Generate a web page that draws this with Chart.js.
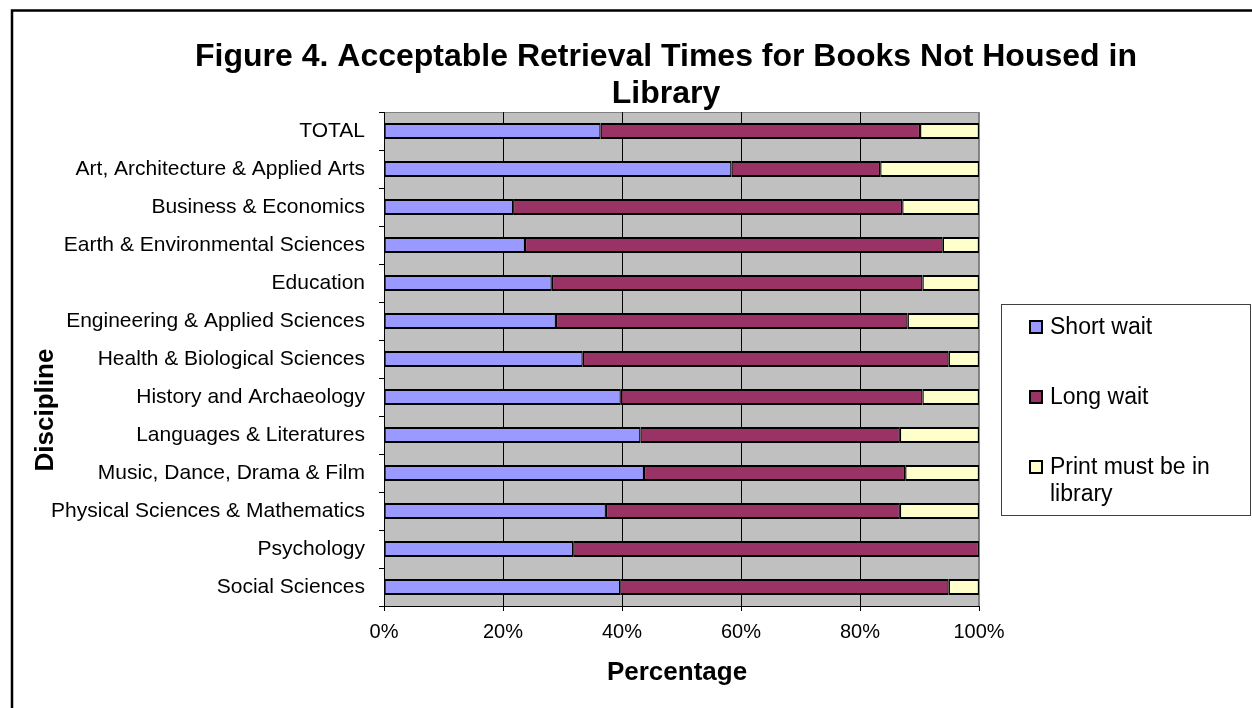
<!DOCTYPE html>
<html>
<head>
<meta charset="utf-8">
<title>Figure 4</title>
<script src="https://cdn.jsdelivr.net/npm/chart.js@4.4.1/dist/chart.umd.min.js"></script>
<style>
  html, body { margin: 0; padding: 0; background: #fff; }
  canvas { display: block; }
</style>
</head>
<body>
<canvas id="chart" width="1252" height="708"></canvas>
<script>
// categories top to bottom
const disciplines = [
  'TOTAL',
  'Art, Architecture & Applied Arts',
  'Business & Economics',
  'Earth & Environmental Sciences',
  'Education',
  'Engineering & Applied Sciences',
  'Health & Biological Sciences',
  'History and Archaeology',
  'Languages & Literatures',
  'Music, Dance, Drama & Film',
  'Physical Sciences & Mathematics',
  'Psychology',
  'Social Sciences'
];

// percentages
const shortWait = [36.4, 58.4, 21.7, 23.7, 28.2, 28.9, 33.4, 39.8, 43.1, 43.7, 37.3, 31.8, 39.7];
const longWait  = [53.7, 25.0, 65.4, 70.2, 62.3, 59.1, 61.5, 50.7, 43.6, 43.9, 49.4, 68.2, 55.2];
const printLib  = [9.9, 16.6, 12.9, 6.1, 9.5, 12.0, 5.1, 9.5, 13.3, 12.4, 13.3, 0, 5.1];

const seriesNames = ['Short wait', 'Long wait', 'Print must be in library'];
const seriesColors = ['#9999FF', '#993366', '#FFFFCC'];
const xTicks = [0, 20, 40, 60, 80, 100];

const FONT = "'Liberation Sans', Arial, sans-serif";

// frame, plot background, titles and the boxed legend
const decorations = {
  id: 'decorations',
  beforeDraw(chart) {
    const { ctx, chartArea: a } = chart;
    ctx.save();
    ctx.fillStyle = '#C0C0C0';
    ctx.fillRect(a.left, a.top, a.right - a.left, a.bottom - a.top);
    ctx.strokeStyle = '#808080';
    ctx.lineWidth = 1;
    ctx.strokeRect(a.left + 0.5, a.top + 0.5, a.right - a.left - 1, a.bottom - a.top);
    ctx.restore();
  },
  afterDraw(chart) {
    const { ctx } = chart;
    ctx.save();
    // outer frame
    ctx.strokeStyle = '#000';
    ctx.lineWidth = 2.5;
    ctx.beginPath();
    ctx.moveTo(12, 708);
    ctx.lineTo(12, 10.5);
    ctx.lineTo(1252, 10.5);
    ctx.stroke();

    // title
    ctx.fillStyle = '#000';
    ctx.textAlign = 'center';
    ctx.textBaseline = 'alphabetic';
    ctx.font = 'bold 32px ' + FONT;
    ctx.fillText('Figure 4. Acceptable Retrieval Times for Books Not Housed in', 666, 66);
    ctx.fillText('Library', 666, 103);

    // axis titles
    ctx.font = 'bold 26px ' + FONT;
    ctx.fillText('Percentage', 677, 680);
    ctx.save();
    ctx.translate(53, 410);
    ctx.rotate(-Math.PI / 2);
    ctx.fillText('Discipline', 0, 0);
    ctx.restore();

    // legend box
    ctx.fillStyle = '#fff';
    ctx.fillRect(1001, 304, 250, 211);
    ctx.strokeStyle = '#404040';
    ctx.lineWidth = 1;
    ctx.strokeRect(1001.5, 304.5, 249, 211);
    const rows = [[334], [404], [474, 501]];
    const lines = [['Short wait'], ['Long wait'], ['Print must be in', 'library']];
    ctx.font = '23px ' + FONT;
    ctx.textAlign = 'left';
    chart.data.datasets.forEach((ds, i) => {
      const base = rows[i][0];
      ctx.fillStyle = ds.backgroundColor;
      ctx.fillRect(1030, base - 13, 12, 12);
      ctx.strokeStyle = '#000';
      ctx.lineWidth = 2;
      ctx.strokeRect(1030, base - 13, 12, 12);
      ctx.fillStyle = '#000';
      lines[i].forEach((t, j) => ctx.fillText(t, 1050, rows[i][j]));
    });
    ctx.restore();
  }
};

new Chart(document.getElementById('chart'), {
  type: 'bar',
  data: {
    labels: disciplines,
    datasets: [shortWait, longWait, printLib].map((vals, i) => ({
      label: seriesNames[i],
      data: vals,
      backgroundColor: seriesColors[i],
      borderColor: '#000',
      borderWidth: { top: 2, bottom: 2, left: 1.3, right: 1.3 },
      borderSkipped: false,
      categoryPercentage: 1,
      barPercentage: 0.42
    }))
  },
  options: {
    indexAxis: 'y',
    responsive: false,
    animation: false,
    layout: { padding: { left: 0, top: 112, right: 273, bottom: 52 } },
    plugins: {
      legend: { display: false },
      title: { display: false },
      tooltip: { enabled: false }
    },
    scales: {
      x: {
        stacked: true,
        min: 0,
        max: 100,
        afterBuildTicks: (scale) => { scale.ticks = xTicks.map(v => ({ value: v })); },
        afterFit: (scale) => { scale.height = 50; },
        grid: {
          color: (c) => (c.tick && c.tick.value === 100 ? '#8a8a8a' : '#000'),
          lineWidth: 1,
          tickLength: 5,
          tickColor: '#000'
        },
        border: { color: '#000', width: 1 },
        ticks: {
          color: '#000',
          font: { family: FONT, size: 20 },
          padding: 9,
          maxRotation: 0,
          callback: (v) => v + '%'
        }
      },
      y: {
        stacked: true,
        afterFit: (scale) => { scale.width = 384; },
        grid: {
          drawOnChartArea: false,
          offset: true,
          tickLength: 5,
          color: '#000'
        },
        border: { color: '#000', width: 1 },
        ticks: {
          color: '#000',
          font: { family: FONT, size: 21 },
          padding: 14
        }
      }
    }
  },
  plugins: [decorations]
});
</script>
</body>
</html>
